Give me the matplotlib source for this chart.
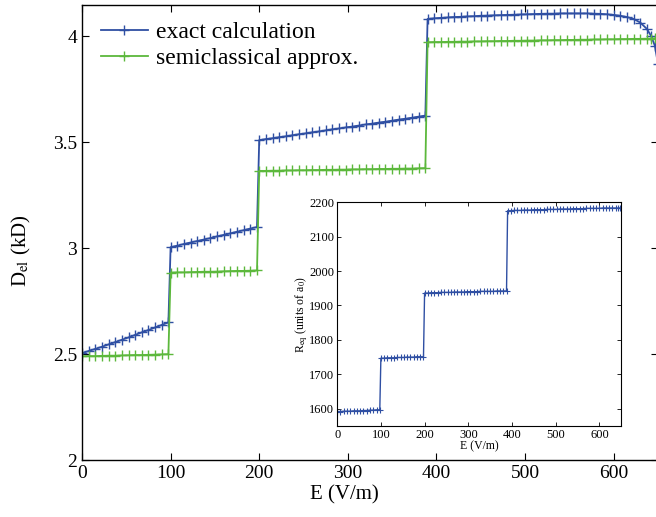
import matplotlib
matplotlib.use("Agg")
import matplotlib.pyplot as plt

plt.rcParams.update({
    "font.family": "serif",
    "font.serif": ["Liberation Serif", "DejaVu Serif"],
    "mathtext.fontset": "stix",
    "xtick.direction": "in",
    "ytick.direction": "in",
    "xtick.top": True,
    "ytick.right": True,
})

# electric field values (V/m)
field = [0, 7.5, 15, 22.5, 30, 37.5, 45, 52.5, 60, 67.5, 75, 82.5, 90, 97.5,
         100, 107.5, 115, 122.5, 130, 137.5, 145, 152.5, 160, 167.5, 175, 182.5, 190, 197.5,
         200, 207.5, 215, 222.5, 230, 237.5, 245, 252.5, 260, 267.5, 275, 282.5, 290,
         297.5, 305, 312.5, 320, 327.5, 335, 342.5, 350, 357.5, 365, 372.5, 380, 387.5,
         390, 397.5, 405, 412.5, 420, 427.5, 435, 442.5, 450, 457.5, 465, 472.5, 480,
         487.5, 495, 502.5, 510, 517.5, 525, 532.5, 540, 547.5, 555, 562.5, 570, 577.5,
         585, 592.5, 600, 607.5, 615, 622.5, 630, 637.5, 642.5, 646.5, 650]

# dipole moment, exact calculation (kD)
d_exact = [2.505, 2.515, 2.525, 2.535, 2.546, 2.557, 2.568, 2.579, 2.591, 2.603, 2.614, 2.626, 2.638, 2.650,
           3.005, 3.012, 3.020, 3.027, 3.034, 3.041, 3.048, 3.056, 3.063, 3.070, 3.078, 3.085, 3.093, 3.100,
           3.510, 3.515, 3.519, 3.524, 3.528, 3.533, 3.538, 3.542, 3.547, 3.551, 3.556, 3.561, 3.565,
           3.570, 3.574, 3.579, 3.584, 3.588, 3.593, 3.597, 3.602, 3.607, 3.611, 3.616, 3.621, 3.626,
           4.082, 4.085, 4.087, 4.089, 4.091, 4.092, 4.094, 4.095, 4.097, 4.098, 4.099, 4.100, 4.101,
           4.102, 4.103, 4.104, 4.105, 4.106, 4.107, 4.107, 4.108, 4.108, 4.108, 4.108, 4.108, 4.107,
           4.106, 4.104, 4.101, 4.097, 4.091, 4.082, 4.065, 4.035, 4.000, 3.955, 3.870]

# dipole moment, semiclassical approximation (kD)
d_semi = [2.490, 2.491, 2.491, 2.492, 2.493, 2.493, 2.494, 2.495, 2.496, 2.496, 2.497, 2.498, 2.499, 2.500,
          2.885, 2.886, 2.886, 2.887, 2.888, 2.889, 2.889, 2.890, 2.891, 2.892, 2.893, 2.893, 2.894, 2.895,
          3.365, 3.365, 3.366, 3.366, 3.367, 3.367, 3.368, 3.368, 3.369, 3.369, 3.370, 3.370, 3.371,
          3.371, 3.372, 3.372, 3.373, 3.373, 3.374, 3.374, 3.375, 3.375, 3.376, 3.376, 3.377, 3.378,
          3.972, 3.973, 3.973, 3.974, 3.974, 3.975, 3.975, 3.976, 3.976, 3.977, 3.977, 3.978, 3.978,
          3.979, 3.979, 3.980, 3.980, 3.981, 3.981, 3.982, 3.982, 3.983, 3.983, 3.984, 3.984, 3.985,
          3.985, 3.986, 3.986, 3.987, 3.987, 3.988, 3.988, 3.989, 3.989, 3.990, 3.990]

# equilibrium separation (units of a0)
r_eq = [1592, 1592, 1593, 1593, 1593, 1594, 1594, 1594, 1595, 1595, 1596, 1596, 1597, 1597,
        1747, 1747, 1748, 1748, 1748, 1749, 1749, 1749, 1750, 1750, 1750, 1751, 1751, 1751,
        1936, 1936, 1937, 1937, 1937, 1938, 1938, 1938, 1938, 1939, 1939, 1939, 1939,
        1940, 1940, 1940, 1940, 1941, 1941, 1941, 1941, 1941, 1942, 1942, 1942, 1942,
        2175, 2175, 2176, 2176, 2176, 2177, 2177, 2177, 2178, 2178, 2178, 2178, 2179,
        2179, 2179, 2179, 2180, 2180, 2180, 2180, 2181, 2181, 2181, 2181, 2182, 2182,
        2182, 2182, 2182, 2183, 2183, 2183, 2183, 2183, 2183, 2183, 2183]

BLUE = "#2f4fa3"
GREEN = "#5cb83c"

fig = plt.figure(figsize=(6.56, 5.17), dpi=100, facecolor="white")
ax = fig.add_axes([0.125, 0.110, 0.878, 0.880])

ax.plot(field, d_exact, color=BLUE, lw=1.3, marker="+", ms=7, mew=1.0, label="exact calculation")
ax.plot(field, d_semi, color=GREEN, lw=1.3, marker="+", ms=7, mew=1.0, label="semiclassical approx.")
ax.set_xlim(0, 650)
ax.set_ylim(2, 4.147)
ax.set_xticks([0, 100, 200, 300, 400, 500, 600])
ax.set_yticks([2, 2.5, 3, 3.5, 4])
ax.set_yticklabels(["2", "2.5", "3", "3.5", "4"])
ax.tick_params(labelsize=14, length=5, width=0.8)
ax.set_xlabel("E (V/m)", fontsize=15, labelpad=0)
ax.xaxis.set_label_coords(0.455, -0.055)
ax.set_ylabel(r"D$_{\rm el}$ (kD)", fontsize=15, labelpad=4)
ax.yaxis.set_label_coords(-0.085, 0.46)
for s in ax.spines.values():
    s.set_linewidth(1.0)

ax.legend(loc="upper left", bbox_to_anchor=(0.024, 0.975), frameon=False, fontsize=17,
          handlelength=2.0, handletextpad=0.35, numpoints=1, labelspacing=0.2,
          borderaxespad=0.0, borderpad=0.2)

# inset
ins = fig.add_axes([0.514, 0.176, 0.433, 0.433])
ins.plot(field, r_eq, color=BLUE, lw=1.0, marker="+", ms=5, mew=0.8)
ins.set_xlim(0, 650)
ins.set_ylim(1550, 2200)
ins.set_xticks([0, 100, 200, 300, 400, 500, 600])
ins.set_yticks([1600, 1700, 1800, 1900, 2000, 2100, 2200])
ins.tick_params(labelsize=9, length=3, width=0.6, pad=2)
ins.set_xlabel("E (V/m)", fontsize=8.5, labelpad=0)
ins.set_ylabel(r"R$_{\rm eq}$ (units of a$_0$)", fontsize=8.5, labelpad=0)
ins.yaxis.set_label_coords(-0.095, 0.5)

fig.savefig("out.png", dpi=100)
